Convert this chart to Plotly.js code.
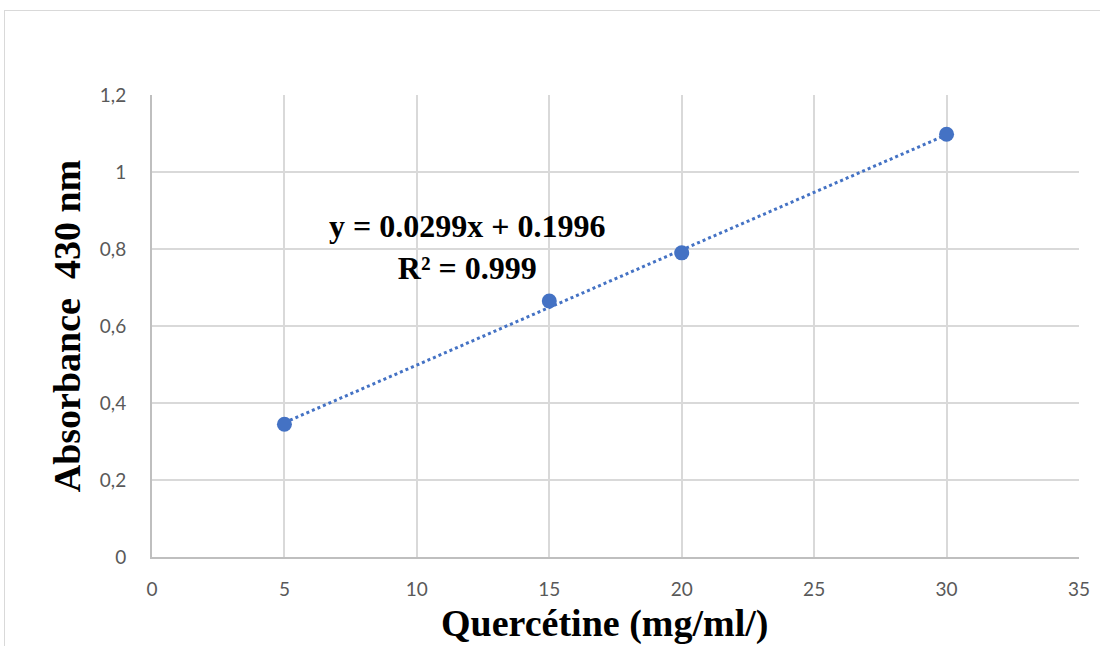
<!DOCTYPE html>
<html>
<head>
<meta charset="utf-8">
<script src="https://cdn.plot.ly/plotly-3.0.1.min.js"></script>
<style>
  html, body { margin: 0; padding: 0; background: #fff; }
  #wrap { position: relative; width: 1100px; height: 646px; overflow: hidden; }
  #chart { position: absolute; left: 0; top: 0; width: 1100px; height: 646px; }
  #frame { position: absolute; left: 4px; top: 10px; width: 1110px; height: 650px;
           border: 1px solid #d9d9d9; pointer-events: none; box-sizing: border-box; }
</style>
</head>
<body>
<div id="wrap">
  <div id="chart"></div>
  <div id="frame"></div>
</div>
<script>
// Data
const concentration = [5, 15, 20, 30];
const absorbance = [0.345, 0.665, 0.79, 1.098];
const trendSlope = 0.0299;
const trendIntercept = 0.1996;
const equationText = "y = 0.0299x + 0.1996<br>R² = 0.999";
const xTitle = "Quercétine (mg/ml/)";
const yTitle = "Absorbance  430 nm";

const xMin = Math.min(...concentration);
const xMax = Math.max(...concentration);
const trendX = [xMin, xMax];
const trendY = trendX.map(v => trendSlope * v + trendIntercept);

const blue = "#4472C4";

const traces = [
  {
    x: trendX, y: trendY, type: "scatter", mode: "lines",
    line: { color: blue, width: 3, dash: "dot" },
    hoverinfo: "skip", showlegend: false
  },
  {
    x: concentration, y: absorbance, type: "scatter", mode: "markers",
    marker: { color: blue, size: 15 },
    showlegend: false
  }
];

const tickFont = { family: "Lato, 'Open Sans', sans-serif", size: 19, color: "#595959" };
const titleFont = { family: "'Liberation Serif', 'Times New Roman', serif", size: 38, color: "#000", weight: "bold" };

const layout = {
  width: 1100, height: 646,
  margin: { l: 152, r: 21, t: 95, b: 89 },
  paper_bgcolor: "#fff", plot_bgcolor: "#fff",
  separators: ", ",
  showlegend: false,
  xaxis: {
    range: [0, 35], tick0: 0, dtick: 5,
    showgrid: true, gridcolor: "#d9d9d9", gridwidth: 2,
    zeroline: false, showline: true, linecolor: "#bfbfbf", linewidth: 2,
    ticks: "", tickfont: tickFont, ticklabelstandoff: 14
  },
  yaxis: {
    range: [0, 1.2], tick0: 0, dtick: 0.2,
    showgrid: true, gridcolor: "#d9d9d9", gridwidth: 2,
    zeroline: false, showline: true, linecolor: "#bfbfbf", linewidth: 2,
    ticks: "", tickfont: tickFont, ticklabelstandoff: 20,
    title: { text: yTitle, font: titleFont, standoff: 8 }
  },
  annotations: [
    {
      x: 11.9, y: 0.805, xref: "x", yref: "y",
      text: equationText, showarrow: false,
      font: { family: "'Liberation Serif', 'Times New Roman', serif", size: 32, color: "#000", weight: "bold" },
      align: "center"
    },
    {
      x: 0.5, y: 0, xref: "paper", yref: "paper",
      xanchor: "center", yanchor: "middle",
      xshift: -11, yshift: -66,
      text: xTitle, showarrow: false,
      font: titleFont
    }
  ]
};

Plotly.newPlot("chart", traces, layout, { staticPlot: true, displayModeBar: false });
</script>
</body>
</html>
